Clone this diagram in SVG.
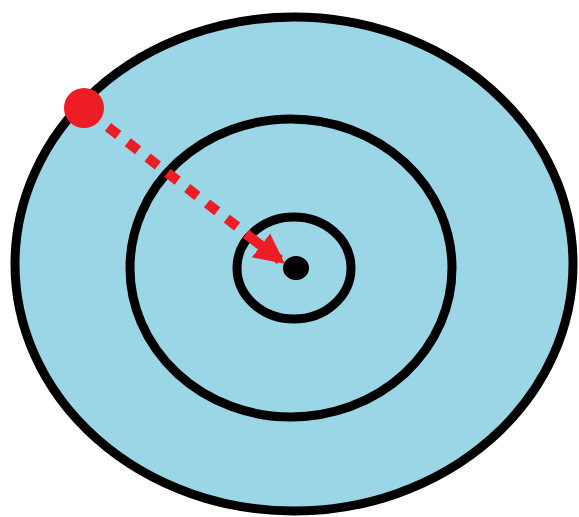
<svg xmlns="http://www.w3.org/2000/svg" width="579" height="517" viewBox="0 0 579 517">
<defs>
<style>
.ring{fill:none;stroke:#000;stroke-width:9}
.conn{stroke:#ee1c24;stroke-width:10;fill:none}
</style>
<marker id="ah" viewBox="0 0 10 10" refX="8" refY="5" markerWidth="3" markerHeight="3" orient="auto" markerUnits="strokeWidth">
<path d="M0,0 L10,5 L0,10 Z" fill="#ee1c24"/>
</marker>
</defs>
<rect width="579" height="517" fill="#fff"/>
<g id="outer"><ellipse cx="294" cy="264" rx="279" ry="247" fill="#9bd6e6" stroke="#000" stroke-width="9"/></g>
<g id="middle"><ellipse cx="291" cy="268" rx="161" ry="149" class="ring"/></g>
<g id="inner"><ellipse cx="294" cy="268" rx="57" ry="51" class="ring"/></g>
<g id="center"><ellipse cx="296" cy="268" rx="13" ry="12" fill="#000"/></g>
<g id="start"><circle cx="84" cy="108" r="20" fill="#ee1c24"/></g>
<g id="connectors">
<path d="M108,127 L248,235" class="conn" stroke-dasharray="13,12"/>
<path d="M246,234 L280,260" class="conn" marker-end="url(#ah)"/>
</g>
</svg>
